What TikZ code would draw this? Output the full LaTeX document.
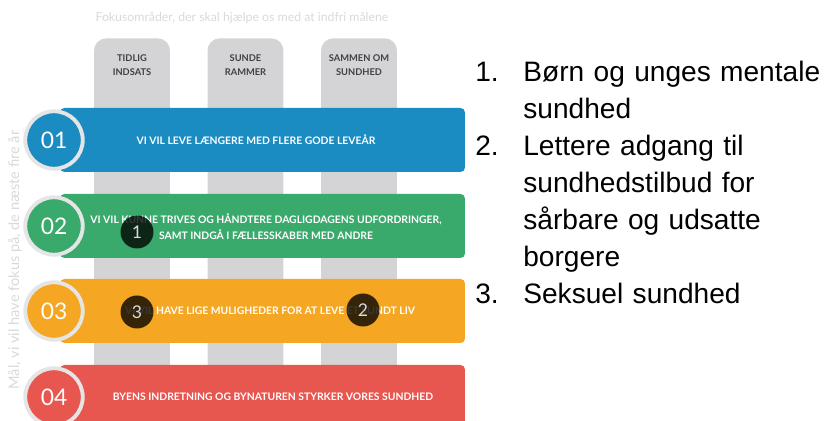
\documentclass[tikz,border=0pt]{standalone}
\usepackage{fontspec}
\setmainfont{Liberation Sans}
\newfontfamily\barfont{Lato}
\usepackage{tikz}
\usetikzlibrary{calc}
\definecolor{barblue}{RGB}{27,140,194}
\definecolor{bargreen}{RGB}{58,170,108}
\definecolor{barorange}{RGB}{245,166,35}
\definecolor{barred}{RGB}{232,86,80}
\definecolor{colgray}{RGB}{212,212,214}
\tikzstyle{column}=[fill=colgray,rounded corners=7pt,minimum width=1.52cm,minimum height=7.3cm,inner sep=0pt]
\tikzstyle{collabel}=[text=black!75,font=\barfont\bfseries\fontsize{5.3}{8}\selectfont,align=center]
\tikzstyle{bar}=[rectangle,rounded corners=2.5pt,minimum width=8.1cm,minimum height=1.28cm,inner sep=0pt]
\tikzstyle{bartext}=[text=white,font=\barfont\bfseries\fontsize{5.9}{9.5}\selectfont,align=center]
\tikzstyle{numcircle}=[circle,draw=black!10,line width=2.2pt,minimum size=1.15cm,inner sep=0pt,text=white,font=\barfont\fontsize{13}{13}\selectfont]
\tikzstyle{badge}=[circle,fill=black,fill opacity=0.78,text opacity=1,text=white!85!black,minimum size=0.66cm,inner sep=0pt,font=\barfont\fontsize{10}{10}\selectfont]
\tikzstyle{faint}=[text=black!15,font=\barfont\fontsize{7}{7}\selectfont]
\tikzstyle{listnum}=[anchor=base west,inner sep=0pt,font=\fontsize{16}{21}\selectfont]
\tikzstyle{listitem}=[anchor=base west,inner sep=0pt,text width=6cm,align=left,font=\fontsize{16}{21}\selectfont]

\begin{document}
\begin{tikzpicture}[x=0.02cm,y=-0.02cm]
\useasboundingbox (0,0) rectangle (826,421);
\clip (0,0) rectangle (826,421);

    % focus areas behind the bars
    \node[faint] (focus) at (242,18) {Fokusområder, der skal hjælpe os med at indfri målene};
    \foreach \x/ \name/ \label in {{132/col1/{TIDLIG\\INDSATS}}, {245.5/col2/{SUNDE\\RAMMER}}, {359/col3/{SAMMEN OM\\SUNDHED}}}
    {
        \node[column,anchor=north] (\name) at (\x,38) {};
        \node[collabel] (\name label) at (\x,65) {\label};
    }

    \node[faint,rotate=90,font=\barfont\fontsize{8.3}{8}\selectfont] (goals) at (15,260) {Mål, vi vil have fokus på, de næste fire år};

    % the four goals
    \foreach \y/ \col/ \num in {140/barblue/01, 226/bargreen/02, 311/barorange/03, 397/barred/04}
    {
        \node[bar,fill=\col] (bar\num) at (262.5,\y) {};
        \node[numcircle,fill=\col] (num\num) at (54,\y) {\num};
    }

    \node[bartext] (text01) at (256,140) {VI VIL LEVE LÆNGERE MED FLERE GODE LEVEÅR};
    \node[bartext] (text02) at (266,226.5) {VI VIL KUNNE TRIVES OG HÅNDTERE DAGLIGDAGENS UDFORDRINGER,\\ SAMT INDGÅ I FÆLLESSKABER MED ANDRE};
    \node[bartext] (text03) at (270,311) {VI VIL HAVE LIGE MULIGHEDER FOR AT LEVE ET SUNDT LIV};
    \node[bartext] (text04) at (273,397) {BYENS INDRETNING OG BYNATUREN STYRKER VORES SUNDHED};

    % markers for the three themes
    \foreach \pos/ \name/ \num in {{(137,232)/badge1/1}, {(363,310)/badge2/2}, {(137,312)/badge3/3}}
        \node[badge] (\name) at \pos {\num};

    % list on the right
    \node[listnum] (n1) at (475,82) {1.};
    \node[listitem] (item1) at (523,82) {Børn og unges mentale\\sundhed};
    \node[listnum] (n2) at (475,156) {2.};
    \node[listitem] (item2) at (523,156) {Lettere adgang til\\sundhedstilbud for\\sårbare og udsatte\\borgere};
    \node[listnum] (n3) at (475,304) {3.};
    \node[listitem] (item3) at (523,304) {Seksuel sundhed};

\end{tikzpicture}
\end{document}
